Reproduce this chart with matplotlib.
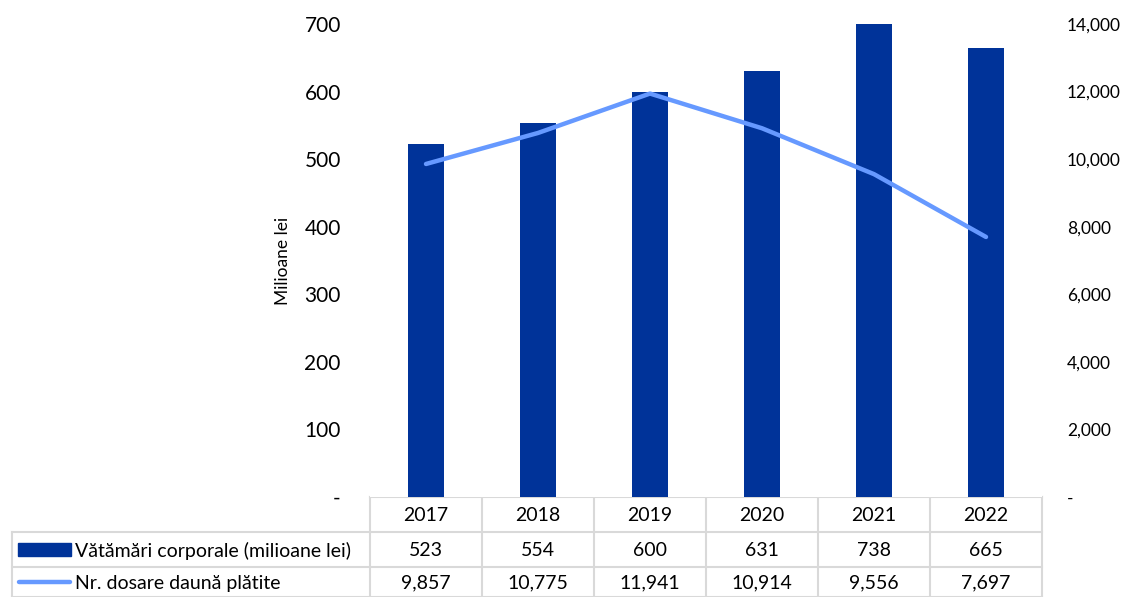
import matplotlib
matplotlib.use("Agg")
from matplotlib import pyplot as plt
from matplotlib.patches import Rectangle
from matplotlib.lines import Line2D

plt.rcParams['font.family'] = ['Lato', 'DejaVu Sans']

years = ['2017', '2018', '2019', '2020', '2021', '2022']
vatamari = [523, 554, 600, 631, 738, 665]          # milioane lei
dosare = [9857, 10775, 11941, 10914, 9556, 7697]   # nr. dosare
bar_label = 'Vătămări corporale (milioane lei)'
line_label = 'Nr. dosare daună plătite'

bar_color = '#003399'
line_color = '#6699FF'
grid_color = '#D9D9D9'

W, H = 1129, 597
fig = plt.figure(figsize=(W / 100, H / 100), dpi=100)

# plot area in pixel coordinates
x0, x1, ytop, ybot = 370, 1042, 24, 497
ax = fig.add_axes([x0 / W, 1 - ybot / H, (x1 - x0) / W, (ybot - ytop) / H])
ax2 = ax.twinx()

xs = list(range(len(years)))
ax.bar(xs, vatamari, width=0.32, color=bar_color, zorder=2)
ax2.plot(xs, dosare, color=line_color, lw=3.2, solid_capstyle='round', zorder=3)
ax.set_zorder(1)
ax2.set_zorder(2)

ax.set_xlim(-0.5, len(years) - 0.5)
ax.set_ylim(0, 700)
ax2.set_ylim(0, 14000)
ax.set_yticks(range(0, 701, 100))
ax.set_yticklabels(['-'] + [str(v) for v in range(100, 701, 100)])
ax2.set_yticks(range(0, 14001, 2000))
ax2.set_yticklabels(['-'] + [f'{v:,}' for v in range(2000, 14001, 2000)])
ax.set_xticks([])
for a in (ax, ax2):
    for s in a.spines.values():
        s.set_visible(False)
ax.tick_params(axis='y', length=0, pad=21, labelsize=15)
ax2.tick_params(axis='y', length=0, pad=18, labelsize=12.5)
ax.set_ylabel('Milioane lei', fontsize=12.5, labelpad=10)

# data table below the plot
tab = fig.add_axes([0, 0, 1, 1], facecolor='none')
tab.set_xlim(0, W)
tab.set_ylim(H, 0)
tab.axis('off')

rows_y = [497, 532, 567, 597]
# column edges from the main axis scale
to_pix = lambda xd: (ax.transData.transform((xd, 0))[0])
edges = [to_pix(i - 0.5) for i in range(len(years) + 1)]
left_edge = 12
lw = 1.5
# horizontal lines
tab.plot([edges[0], edges[-1]], [rows_y[0], rows_y[0]], color=grid_color, lw=lw)
for yy in rows_y[1:]:
    tab.plot([left_edge, edges[-1]], [yy, yy], color=grid_color, lw=lw)
# vertical lines
for e in edges:
    tab.plot([e, e], [rows_y[0], rows_y[-1]], color=grid_color, lw=lw)
tab.plot([left_edge, left_edge], [rows_y[1], rows_y[-1]], color=grid_color, lw=lw)

tsize = 14
for i, yr in enumerate(years):
    cx = (edges[i] + edges[i + 1]) / 2
    tab.text(cx, (rows_y[0] + rows_y[1]) / 2 + 1, yr, ha='center', va='center', fontsize=tsize)
    tab.text(cx, (rows_y[1] + rows_y[2]) / 2 + 1, str(vatamari[i]), ha='center', va='center', fontsize=tsize)
    tab.text(cx, (rows_y[2] + rows_y[3]) / 2 + 1, f'{dosare[i]:,}', ha='center', va='center', fontsize=tsize)

# legend keys inside the table
r1 = (rows_y[1] + rows_y[2]) / 2
r2 = (rows_y[2] + rows_y[3]) / 2
tab.add_patch(Rectangle((18, r1 - 6.5), 53, 13, color=bar_color))
tab.add_line(Line2D([19, 70], [r2, r2], color=line_color, lw=3.2, solid_capstyle='round'))
tab.text(75, r1 + 1, bar_label, ha='left', va='center', fontsize=tsize)
tab.text(75, r2 + 1, line_label, ha='left', va='center', fontsize=tsize)

fig.savefig('out.png', dpi=100)
